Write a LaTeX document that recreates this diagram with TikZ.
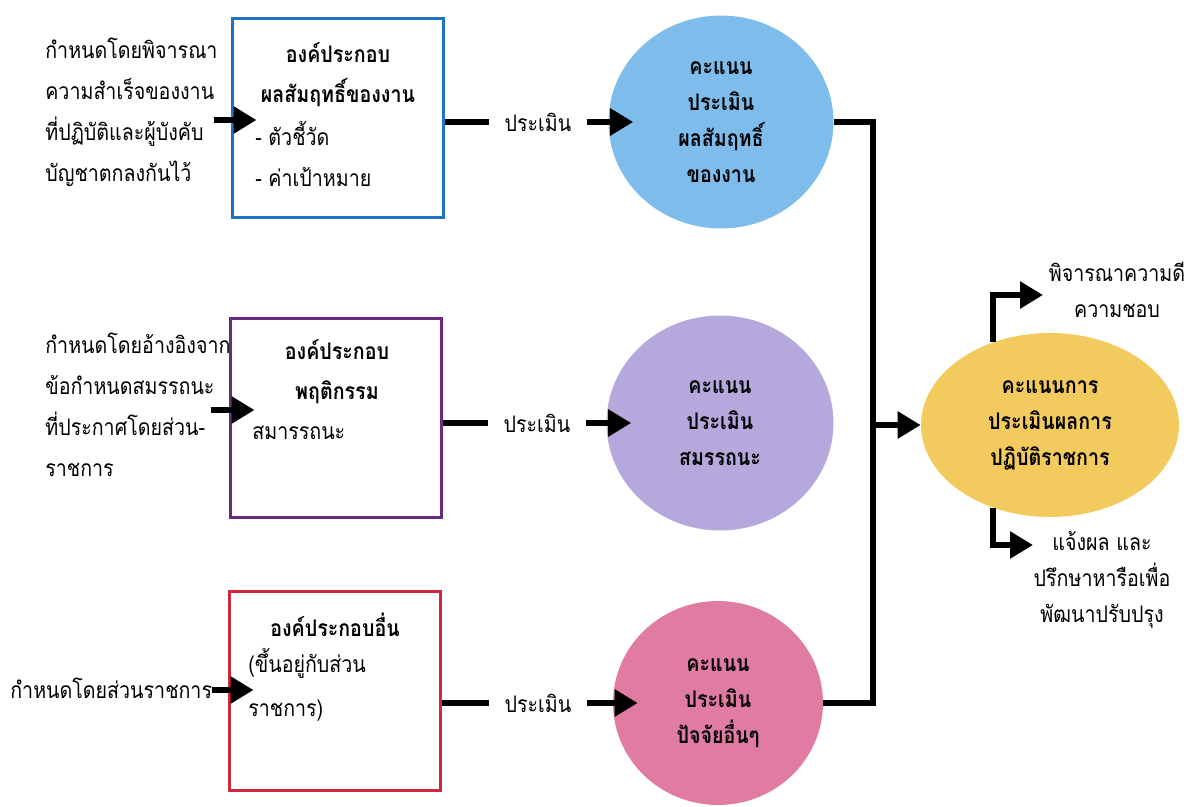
\documentclass[tikz,border=0pt]{standalone}
\usepackage{fontspec}
\setmainfont{Loma}[Script=Thai, FakeStretch=0.86]
\usepackage{xcolor}
\usepackage{tikz}
\usetikzlibrary{arrows.meta,positioning,shapes.geometric}
\definecolor{partblue}{HTML}{1F74C4}
\definecolor{partpurple}{HTML}{6A2A80}
\definecolor{partred}{HTML}{D0283F}
\definecolor{scoreblue}{HTML}{7DBCEB}
\definecolor{scorepurple}{HTML}{B4A8DC}
\definecolor{scorepink}{HTML}{E07BA2}
\definecolor{finalyellow}{HTML}{F2CA5E}
\newcommand{\thsize}[1]{\fontsize{13}{#1}\selectfont}
\tikzset{
  part/.style={rectangle, draw=#1, line width=1.7pt, minimum width=4.24cm,
    minimum height=4cm, inner sep=0pt},
  ttl/.style={align=center, inner sep=0pt, font=\bfseries\thsize{22.8pt}},
  item/.style={anchor=west, align=left, inner sep=0pt, font=\thsize{#1}},
  item/.default=23.8pt,
  src/.style={anchor=west, align=left, inner sep=0pt, font=\thsize{23.3pt}},
  score/.style={ellipse, fill=#1, inner sep=0pt, align=center,
    font=\bfseries\thsize{20.5pt}},
  lbl/.style={align=center, inner sep=0pt, font=\thsize{20.5pt}},
  evl/.style={inner xsep=0.3cm, inner ysep=2pt, font=\thsize{20pt}},
  flow/.style={-{Triangle[length=0.46cm,width=0.52cm]}, line width=0.13cm},
  bar/.style={line width=0.13cm},
}

\begin{document}
\begin{tikzpicture}[x=0.02cm, y=-0.02cm]
    \useasboundingbox (0,0) rectangle (1191,806);

    % left: where each part comes from
    \node[src] (src1) at (45,112) {กำหนดโดยพิจารณา\\ความสำเร็จของงาน\\ที่ปฏิบัติและผู้บังคับ\\บัญชาตกลงกันไว้};
    \node[src] (src2) at (45,405) {กำหนดโดยอ้างอิงจาก\\ข้อกำหนดสมรรถนะ\\ที่ประกาศโดยส่วน-\\ราชการ};
    \node[src] (src3) at (10,688) {กำหนดโดยส่วนราชการ};

    \node[part=partblue] (box1) at (338,118) {};
    \node[part=partpurple] (box2) at (336,418) {};
    \node[part=partred, minimum height=3.98cm] (box3) at (335,691) {};

    \node[ttl] (ttl1) at (338,75) {องค์ประกอบ\\ผลสัมฤทธิ์ของงาน};
    \node[item] (itm1) at (255,154) {- ตัวชี้วัด\\- ค่าเป้าหมาย};
    \node[ttl] (ttl2) at (337,372) {องค์ประกอบ\\พฤติกรรม};
    \node[item] (itm2) at (252,433) {สมารรถนะ};
    \node[ttl] (ttl3) at (335,625) {องค์ประกอบอื่น};
    \node[item=25pt] (itm3) at (248,685) {(ขึ้นอยู่กับส่วน\\ราชการ)};

    % scores
    \node[evl] (eval1) at (538,122) {ประเมิน};
    \node[evl] (eval2) at (537,423) {ประเมิน};
    \node[evl] (eval3) at (538,703) {ประเมิน};

    \node[score=scoreblue, minimum width=4.5cm, minimum height=4.26cm] (score1) at (721,122)
      {คะแนน\\ประเมิน\\ผลสัมฤทธิ์\\ของงาน};
    \node[score=scorepurple, minimum width=4.54cm, minimum height=4.3cm] (score2) at (720,423)
      {คะแนน\\ประเมิน\\สมรรถนะ};
    \node[score=scorepink, minimum width=4.2cm, minimum height=4.08cm] (score3) at (718,703)
      {คะแนน\\ประเมิน\\ปัจจัยอื่นๆ};

    \node[score=finalyellow, minimum width=5.16cm, minimum height=3.68cm] (total) at (1050,425)
      {คะแนนการ\\ประเมินผลการ\\ปฏิบัติราชการ};

    \node[lbl] (merit) at (1117,290) {พิจารณาความดี\\ความชอบ};
    \node[lbl] (inform) at (1102,580) {แจ้งผล และ\\ปรึกษาหารือเพื่อ\\พัฒนาปรับปรุง};

    \coordinate (bus) at (873,425);
    \coordinate (meritTip) at (1043,295);
    \coordinate (informTip) at (1033,545);

    \draw[flow] ([xshift=-0.34cm,yshift=-0.04cm]box1.west) -- ([xshift=0.52cm,yshift=-0.04cm]box1.west);
    \draw[flow] ([xshift=-0.36cm,yshift=0.16cm]box2.west) -- ([xshift=0.52cm,yshift=0.16cm]box2.west);
    \draw[flow] ([xshift=-0.32cm,yshift=0.02cm]box3.west) -- ([xshift=0.52cm,yshift=0.02cm]box3.west);

    \draw[bar] (box1.east |- eval1) -- (eval1);
    \draw[bar] (box2.east |- eval2) -- (eval2);
    \draw[bar] (box3.east |- eval3) -- (eval3);
    \draw[flow] (eval1) -- ([xshift=0.5cm]score1.west);
    \draw[flow] (eval2) -- ([xshift=0.5cm]score2.west);
    \draw[flow] (eval3) -- ([xshift=0.5cm]score3.west);

    \draw[bar] (score1.east) -| (bus) |- (score3.east);
    \draw[flow] (bus) -- (total);
    \draw[flow] ([xshift=-1.14cm,yshift=-0.18cm]total.north) |- (meritTip);
    \draw[flow] ([xshift=-1.14cm,yshift=0.18cm]total.south) |- (informTip);
\end{tikzpicture}
\end{document}
